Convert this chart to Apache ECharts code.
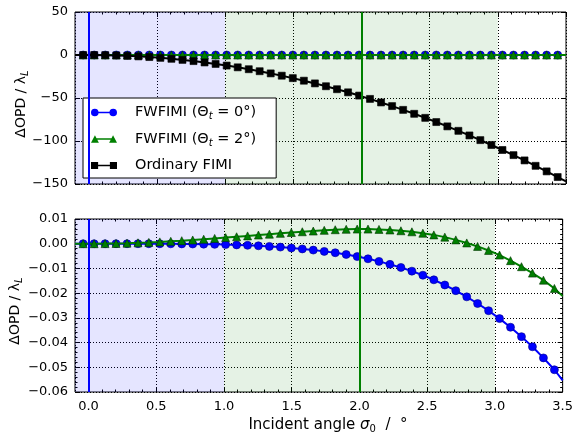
<!DOCTYPE html>
<html><head><meta charset="utf-8">
<script src="https://cdn.jsdelivr.net/npm/echarts@6/dist/echarts.min.js"></script>
<style>html,body{margin:0;padding:0;background:#fff}#c{width:576px;height:439px}</style>
</head><body><div id="c"></div><script>
// ---- data ----
const angles = [-0.040, 0.041, 0.122, 0.203, 0.284, 0.365, 0.445, 0.526, 0.607, 0.688, 0.769, 0.850, 0.931, 1.012, 1.093, 1.174, 1.254, 1.335, 1.416, 1.497, 1.578, 1.659, 1.740, 1.821, 1.902, 1.983, 2.063, 2.144, 2.225, 2.306, 2.387, 2.468, 2.549, 2.630, 2.711, 2.792, 2.872, 2.953, 3.034, 3.115, 3.196, 3.277, 3.358, 3.439];
const fwfimi0 = [0, 0, 0, -0.000001, -0.000002, -0.000006, -0.000013, -0.000026, -0.000046, -0.000076, -0.000119, -0.000177, -0.000255, -0.000357, -0.000485, -0.000646, -0.000841, -0.00108, -0.00137, -0.00171, -0.00211, -0.00258, -0.00310, -0.00365, -0.00435, -0.00520, -0.00610, -0.00715, -0.00835, -0.00960, -0.01110, -0.01275, -0.01460, -0.01670, -0.01900, -0.02150, -0.02420, -0.02710, -0.03030, -0.03380, -0.03760, -0.04170, -0.04620, -0.05100];
const fwfimi2 = [0, 0, 0.00004, 0.00011, 0.00022, 0.00036, 0.00054, 0.00074, 0.00097, 0.00123, 0.00151, 0.00182, 0.00214, 0.00247, 0.00281, 0.00316, 0.00351, 0.00386, 0.00420, 0.00453, 0.00484, 0.00513, 0.00542, 0.00566, 0.00584, 0.00593, 0.00592, 0.00580, 0.00556, 0.00524, 0.00482, 0.00425, 0.00357, 0.00266, 0.00155, 0.00032, -0.00110, -0.00272, -0.00460, -0.00685, -0.00930, -0.01190, -0.01475, -0.01810];
const ordinary = [-0.02, -0.02, -0.18, -0.49, -0.97, -1.60, -2.38, -3.32, -4.42, -5.68, -7.10, -8.67, -10.40, -12.29, -14.34, -16.54, -18.87, -21.39, -24.06, -26.89, -29.88, -33.03, -36.33, -39.79, -43.41, -47.19, -51.07, -55.16, -59.41, -63.81, -68.37, -73.09, -77.97, -83.00, -88.19, -93.54, -98.98, -104.64, -110.46, -116.44, -122.57, -128.86, -135.32, -141.92];
// line end points (curve continues to the frame without markers)
const endAngles = [-0.1, 3.5];
const fwfimi0Ends = [0, -0.0553];
const fwfimi2Ends = [0, -0.0212];
const ordinaryEnds = [-0.12, -147];

const seriesNames = ['FWFIMI (Θt = 0°)', 'FWFIMI (Θt = 2°)', 'Ordinary FIMI'];
const xTicks = [0, 0.5, 1.0, 1.5, 2.0, 2.5, 3.0, 3.5];
const xMinorTicks = [0.1, 0.2, 0.3, 0.4, 0.6, 0.7, 0.8, 0.9, 1.1, 1.2, 1.3, 1.4, 1.6, 1.7, 1.8, 1.9, 2.1, 2.2, 2.3, 2.4, 2.6, 2.7, 2.8, 2.9, 3.1, 3.2, 3.3, 3.4];
const xRange = [-0.1, 3.5];
const topYRange = [-150, 50];
const topYStep = 50;
const bottomYRange = [-0.06, 0.01];
const bottomYStep = 0.01;
const blueBand = [-0.1, 1.0];
const greenBand = [1.0, 3.0];
const refLines = [0, 2];

// ---- chart ----
const FONT = 'DejaVu Sans';
const BLUE = '#0000ff', GREEN = '#008000', BLACK = '#000000';
const minus = s => s.replace('-', '\u2212');
const NOLINE = { show: false, onZero: false };
const DOT = { color: BLACK, type: [1, 2], width: 1 };

// legend glyphs: a line segment with a marker at each end (all sub-paths clockwise)
const BAR = 'M4.5,3.75 L21.5,3.75 L21.5,5.25 L4.5,5.25 Z';
const ICONS = [
  'path://M1,4.5 A3.5,3.5 0 1,1 8,4.5 A3.5,3.5 0 1,1 1,4.5 Z M18,4.5 A3.5,3.5 0 1,1 25,4.5 A3.5,3.5 0 1,1 18,4.5 Z ' + BAR,
  'path://M0.8,8 L4.5,1 L8.2,8 Z M17.8,8 L21.5,1 L25.2,8 Z ' + BAR,
  'path://M1.3,1.3 L7.7,1.3 L7.7,7.7 L1.3,7.7 Z M18.3,1.3 L24.7,1.3 L24.7,7.7 L18.3,7.7 Z ' + BAR
];

function build(ys, ends) {
  const d = [{ value: [endAngles[0], ends[0]], symbol: 'none' }];
  angles.forEach((a, i) => d.push([a, ys[i]]));
  d.push({ value: [endAngles[1], ends[1]], symbol: 'none' });
  return d;
}

function xAxes(grid, labels) {
  const base = { type: 'value', gridIndex: grid, min: xRange[0], max: xRange[1], axisLine: NOLINE,
    splitLine: { show: false }, axisLabel: { show: false }, axisTick: { show: false } };
  const tick = (vals, len) => ({ show: true, inside: true, length: len, customValues: vals, lineStyle: { color: BLACK } });
  return [
    Object.assign({}, base, { position: 'bottom', splitNumber: 7, splitLine: { show: true, lineStyle: DOT } }),
    Object.assign({}, base, { position: 'bottom', axisTick: tick(xTicks, 5),
      axisLabel: { show: labels, customValues: xTicks, formatter: v => minus(Number(v).toFixed(1)), color: BLACK, fontFamily: FONT, fontSize: 13, margin: 8 } }),
    Object.assign({}, base, { position: 'top', axisTick: tick(xTicks, 5) }),
    Object.assign({}, base, { position: 'bottom', axisTick: tick(xMinorTicks, 2.5) }),
    Object.assign({}, base, { position: 'top', axisTick: tick(xMinorTicks, 2.5) })
  ];
}

function yAxes(grid, range, step, decimals, minor) {
  const common = { type: 'value', gridIndex: grid, min: range[0], max: range[1], interval: step, axisLine: NOLINE,
    axisTick: { show: true, inside: true, length: 5, lineStyle: { color: BLACK } },
    minorTick: { show: minor, splitNumber: 5, length: 2.5, lineStyle: { color: BLACK } } };
  return [
    Object.assign({}, common, {
      position: 'left',
      axisLabel: { color: BLACK, fontFamily: FONT, fontSize: 13, margin: 7,
        formatter: v => Math.abs(v) < 1e-9 ? (0).toFixed(decimals) : minus(Number(v).toFixed(decimals)) },
      splitLine: { show: true, lineStyle: DOT }
    }),
    Object.assign({}, common, { position: 'right', axisLabel: { show: false }, splitLine: { show: false } })
  ];
}

function lineSeries(name, data, xi, yi, color, symbol, size, z, extra) {
  return Object.assign({
    name, type: 'line', xAxisIndex: xi, yAxisIndex: yi, data, z,
    symbol, symbolSize: size, showSymbol: true, animation: false,
    lineStyle: { color, width: 2 },
    itemStyle: { color, borderColor: color === BLACK ? BLACK : (color === BLUE ? '#00008a' : '#003300'), borderWidth: 0.6 }
  }, extra || {});
}

function decorations() {
  return {
    markArea: { silent: true, data: [
      [{ xAxis: blueBand[0], itemStyle: { color: 'rgba(0,0,255,0.1)' } }, { xAxis: blueBand[1] }],
      [{ xAxis: greenBand[0], itemStyle: { color: 'rgba(0,128,0,0.1)' } }, { xAxis: greenBand[1] }]
    ] },
    markLine: { silent: true, symbol: ['none', 'none'], label: { show: false }, animation: false,
      data: [
        { xAxis: refLines[0], lineStyle: { color: BLUE, width: 2, type: 'solid' } },
        { xAxis: refLines[1], lineStyle: { color: GREEN, width: 2, type: 'solid' } }
      ] }
  };
}

const chart = echarts.init(document.getElementById('c'), null, { renderer: 'canvas' });
chart.setOption({
  animation: false,
  backgroundColor: '#ffffff',
  textStyle: { fontFamily: FONT },
  grid: [
    { left: 75, top: 12, width: 491, height: 172, show: true, borderColor: BLACK, borderWidth: 1, backgroundColor: 'transparent' },
    { left: 75, top: 219, width: 491, height: 173, show: true, borderColor: BLACK, borderWidth: 1, backgroundColor: 'transparent' }
  ],
  xAxis: [...xAxes(0, false), ...xAxes(1, true)],
  yAxis: [...yAxes(0, topYRange, topYStep, 0, false), ...yAxes(1, bottomYRange, bottomYStep, 2, true)],
  legend: {
    data: seriesNames.map((n, i) => ({ name: n, icon: ICONS[i] })),
    left: 83, top: 98, orient: 'vertical',
    backgroundColor: '#ffffff', borderColor: BLACK, borderWidth: 1, borderRadius: 0,
    padding: [7, 20, 5, 8], itemGap: 10, itemWidth: 26, itemHeight: 9,
    itemStyle: { borderWidth: 0 }, lineStyle: { width: 0 },
    formatter: n => n.replace('Θt', 'Θ{s|t}'),
    textStyle: { color: BLACK, fontFamily: FONT, fontSize: 14.5, padding: [0, 0, 0, 13],
      rich: { s: { fontSize: 10, fontStyle: 'italic', fontFamily: FONT, color: BLACK, padding: [8, 0, 0, 0] } } }
  },
  graphic: [
    { type: 'text', x: 21, y: 104, rotation: Math.PI / 2, silent: true,
      style: { text: 'ΔOPD / λ{s|L}', font: '14px "DejaVu Sans"', fill: BLACK, align: 'center', verticalAlign: 'middle',
        rich: { s: { fontSize: 10, fontStyle: 'italic', fontFamily: FONT, fill: BLACK, padding: [8, 0, 0, 0] } } } },
    { type: 'text', x: 15, y: 311, rotation: Math.PI / 2, silent: true,
      style: { text: 'ΔOPD / λ{s|L}', font: '14px "DejaVu Sans"', fill: BLACK, align: 'center', verticalAlign: 'middle',
        rich: { s: { fontSize: 10, fontStyle: 'italic', fontFamily: FONT, fill: BLACK, padding: [8, 0, 0, 0] } } } },
    { type: 'text', x: 328, y: 425, silent: true,
      style: { text: 'Incident angle {i|σ}{s|0}  /  °', font: '15px "DejaVu Sans"', fill: BLACK, align: 'center', verticalAlign: 'middle',
        rich: { i: { fontSize: 15, fontStyle: 'italic', fontFamily: FONT, fill: BLACK },
                s: { fontSize: 10, fontFamily: FONT, fill: BLACK, padding: [8, 0, 0, 0] } } } }
  ],
  series: [
    lineSeries(seriesNames[0], build(fwfimi0, fwfimi0Ends), 0, 0, BLUE, 'circle', 8, 2, decorations()),
    lineSeries(seriesNames[1], build(fwfimi2, fwfimi2Ends), 0, 0, GREEN, 'triangle', 8, 3),
    lineSeries(seriesNames[2], build(ordinary, ordinaryEnds), 0, 0, BLACK, 'rect', 7, 4),
    lineSeries(seriesNames[0], build(fwfimi0, fwfimi0Ends), 5, 2, BLUE, 'circle', 8, 2, decorations()),
    lineSeries(seriesNames[1], build(fwfimi2, fwfimi2Ends), 5, 2, GREEN, 'triangle', 8, 3)
  ]
});
</script></body></html>
